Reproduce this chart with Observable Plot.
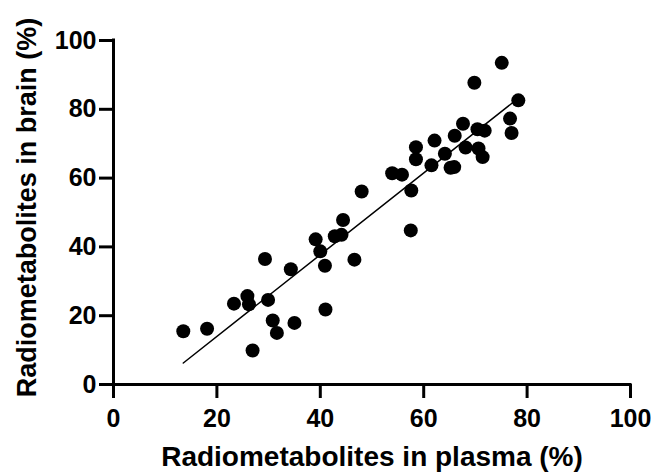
<!DOCTYPE html>
<html><head><meta charset="utf-8">
<script src="https://cdn.jsdelivr.net/npm/d3@7"></script>
<script src="https://cdn.jsdelivr.net/npm/@observablehq/plot@0.6"></script>
<style>body{margin:0;background:#fff}</style>
</head><body><div id="chart"></div>
<script>
const plasma = [13.5, 18.1, 23.3, 25.9, 26.2, 26.9, 29.3, 29.9, 30.8, 31.6, 34.3, 35.0, 39.1, 40.0, 40.9, 41.0, 42.8, 44.1, 44.4, 46.6, 48.0, 53.9, 55.8, 57.5, 57.6, 58.5, 58.5, 61.5, 62.1, 64.1, 65.2, 65.9, 66.0, 67.6, 68.1, 69.8, 70.4, 70.6, 71.4, 71.8, 75.1, 76.7, 77.0, 78.3];
const brain  = [15.5, 16.2, 23.5, 25.7, 23.3, 9.9, 36.5, 24.6, 18.6, 15.0, 33.5, 17.9, 42.2, 38.7, 34.5, 21.8, 43.1, 43.5, 47.8, 36.3, 56.1, 61.4, 61.0, 44.8, 56.4, 69.0, 65.5, 63.7, 70.9, 67.1, 63.0, 63.2, 72.3, 75.8, 68.9, 87.7, 74.2, 68.6, 66.1, 73.8, 93.5, 77.3, 73.1, 82.6];
const xTicks = [0, 20, 40, 60, 80, 100];
const yTicks = [0, 20, 40, 60, 80, 100];
const xLabel = "Radiometabolites in plasma (%)";
const yLabel = "Radiometabolites in brain (%)";

const data = plasma.map((x, i) => ({x, y: brain[i]}));
const font = "'Liberation Sans', Arial, Helvetica, sans-serif";

const chart = Plot.plot({
  width: 654, height: 476,
  marginLeft: 113, marginRight: 24, marginTop: 40, marginBottom: 92,
  style: {fontFamily: font, background: "white", color: "black", overflow: "visible"},
  x: {domain: [0, 100]},
  y: {domain: [0, 100]},
  marks: [
    Plot.axisX({ticks: xTicks, tickSize: 14, tickPadding: 11, fontSize: 25, fontWeight: "bold", strokeWidth: 3, label: null, tickFormat: d => String(d)}),
    Plot.axisY({ticks: yTicks, tickSize: 14, tickPadding: 3, fontSize: 25, fontWeight: "bold", strokeWidth: 3, label: null, tickFormat: d => String(d)}),
    Plot.ruleY([0], {strokeWidth: 3, strokeLinecap: "square"}),
    Plot.ruleX([0], {strokeWidth: 3, strokeLinecap: "square"}),
    Plot.linearRegressionY(data, {x: "x", y: "y", stroke: "black", strokeWidth: 1.5, ci: 0}),
    Plot.dot(data, {x: "x", y: "y", r: 7, fill: "black", stroke: "none"}),
    Plot.text([xLabel], {text: d => d, frameAnchor: "bottom", textAnchor: "middle", dy: 81, fontSize: 28, fontWeight: "bold"}),
    Plot.text([yLabel], {text: d => d, frameAnchor: "left", textAnchor: "middle", rotate: -90, dx: -86, dy: -5, fontSize: 27, fontWeight: "bold"})
  ]
});
document.getElementById("chart").appendChild(chart);
</script>
</body></html>
